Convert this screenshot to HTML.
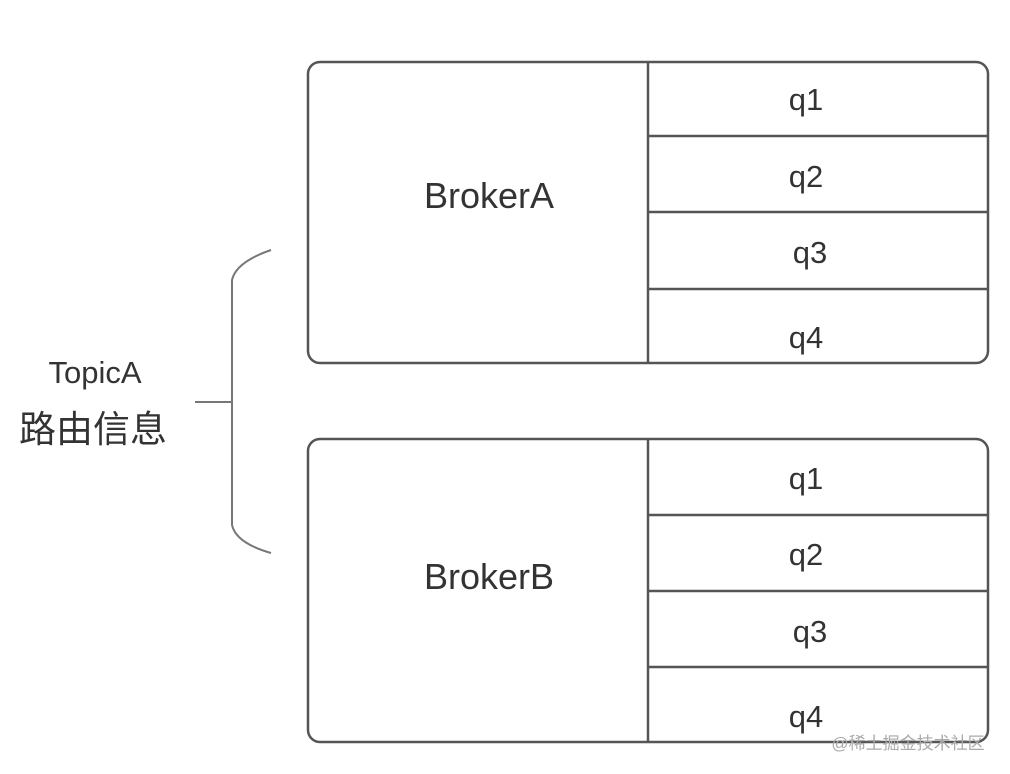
<!DOCTYPE html>
<html><head><meta charset="utf-8"><style>
body{margin:0;background:#fff;}
</style></head><body>
<svg width="1010" height="774" xmlns="http://www.w3.org/2000/svg" style="display:block">
<g fill="none" stroke="#555" stroke-width="2.5">
<rect x="308" y="62" width="680" height="301" rx="12"/>
<line x1="648" y1="62" x2="648" y2="363"/>
<line x1="648" y1="136" x2="988" y2="136"/>
<line x1="648" y1="212" x2="988" y2="212"/>
<line x1="648" y1="289" x2="988" y2="289"/>
<rect x="308" y="439" width="680" height="303" rx="12"/>
<line x1="648" y1="439" x2="648" y2="742"/>
<line x1="648" y1="515" x2="988" y2="515"/>
<line x1="648" y1="591" x2="988" y2="591"/>
<line x1="648" y1="667" x2="988" y2="667"/>
<path d="M271 250 Q236 262 232 280 L232 525 Q236 543 271 553" stroke="#777" stroke-width="2"/>
<line x1="195" y1="402" x2="232" y2="402" stroke="#777" stroke-width="2"/>
</g>
<g font-family="Liberation Sans, sans-serif" fill="#333" text-anchor="middle">
<text x="489" y="208" font-size="36">BrokerA</text>
<text x="489" y="589" font-size="36">BrokerB</text>
<g font-size="31">
<text x="806" y="110">q1</text><text x="806" y="187">q2</text><text x="810" y="263">q3</text><text x="806" y="348">q4</text>
<text x="806" y="489">q1</text><text x="806" y="565">q2</text><text x="810" y="642">q3</text><text x="806" y="727">q4</text>
</g>
<text x="95" y="383" font-size="31">TopicA</text>
<text x="93" y="442" font-size="37" font-family="Liberation Sans, Noto Sans CJK SC, sans-serif">路由信息</text>
<text x="908" y="749" font-size="17" fill="#aaa" font-family="Liberation Sans, Noto Sans CJK SC, sans-serif">@稀土掘金技术社区</text>
</g>
</svg>
</body></html>
